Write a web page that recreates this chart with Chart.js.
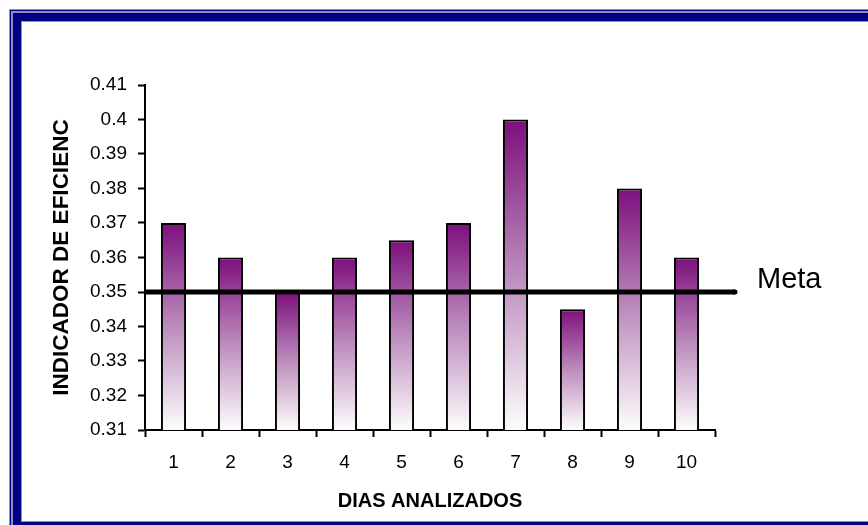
<!DOCTYPE html>
<html lang="es">
<head>
<meta charset="utf-8">
<title>Indicador de eficiencia por día</title>
<script src="https://cdn.jsdelivr.net/npm/chart.js@4.4.1/dist/chart.umd.min.js"></script>
<style>
  html, body { margin: 0; padding: 0; background: #ffffff; }
  #wrap { width: 868px; height: 525px; position: relative; }
  canvas { display: block; }
</style>
</head>
<body>
<div id="wrap"><canvas id="chart" width="868" height="525"></canvas></div>
<script>
// Días analizados y valor del indicador de eficiencia de cada día
const dias = ['1', '2', '3', '4', '5', '6', '7', '8', '9', '10'];
const eficiencia = [0.37, 0.36, 0.35, 0.36, 0.365, 0.37, 0.40, 0.345, 0.38, 0.36];
// Valor objetivo (línea "Meta")
const meta = 0.35;
const metaLabel = 'Meta';
// Marcas del eje vertical
const yTicks = [0.31, 0.32, 0.33, 0.34, 0.35, 0.36, 0.37, 0.38, 0.39, 0.40, 0.41];

const FONT = "'Liberation Sans', Arial, Helvetica, sans-serif";
const NAVY = '#000080';
const PURPLE = 'rgb(125,15,125)';

// Degradado vertical de cada barra: morado arriba, casi blanco abajo
function barGradient(ctx) {
  const chart = ctx.chart;
  const y = chart.scales && chart.scales.y;
  if (!chart.chartArea || !y || ctx.raw == null) return PURPLE;
  const top = y.getPixelForValue(ctx.raw);
  const bottom = y.getPixelForValue(y.min);
  if (!isFinite(top) || !isFinite(bottom) || top === bottom) return PURPLE;
  const g = chart.ctx.createLinearGradient(0, top, 0, bottom);
  g.addColorStop(0, PURPLE);
  g.addColorStop(0.5, 'rgb(188,140,188)');
  g.addColorStop(1, 'rgb(253,253,253)');
  return g;
}

// Marco azul doble alrededor del gráfico
const frame = {
  id: 'frame',
  beforeDraw(chart) {
    const c = chart.ctx, W = chart.width, H = chart.height;
    c.save();
    c.fillStyle = '#ffffff';
    c.fillRect(0, 0, W, H);
    // línea fina exterior
    c.fillStyle = '#8c8cc8';
    c.fillRect(9, 9, W - 9, 3);
    c.fillRect(9, 9, 3, H - 9);
    c.fillStyle = NAVY;
    c.fillRect(10, 10, W - 10, 1);
    c.fillRect(10, 10, 1, H - 10);
    // línea gruesa interior
    c.fillStyle = '#8c8cc8';
    c.fillRect(12, 12, W - 12, 10);
    c.fillRect(12, 12, 10, H - 12);
    c.fillRect(12, 521, W - 12, 1);
    c.fillStyle = NAVY;
    c.fillRect(13, 13, W - 13, 8);
    c.fillRect(13, 13, 8, H - 13);
    c.fillRect(13, 522, W - 13, H - 522);
    c.restore();
  }
};

// Línea horizontal de la meta con su rótulo
const metaLine = {
  id: 'metaLine',
  afterDatasetsDraw(chart) {
    const c = chart.ctx, a = chart.chartArea;
    const y = chart.scales.y.getPixelForValue(meta);
    c.save();
    c.strokeStyle = '#000000';
    c.lineWidth = 5;
    c.lineCap = 'butt';
    c.beginPath();
    c.moveTo(a.left, y);
    c.lineTo(a.right + 20, y);
    c.stroke();
    c.lineCap = 'round';
    c.beginPath();
    c.moveTo(a.right + 19, y);
    c.lineTo(a.right + 20, y);
    c.stroke();
    c.fillStyle = '#000000';
    c.font = '29px ' + FONT;
    c.textAlign = 'left';
    c.textBaseline = 'middle';
    c.fillText(metaLabel, a.right + 42, y - 12);
    c.restore();
  }
};

new Chart(document.getElementById('chart'), {
  type: 'bar',
  data: {
    labels: dias,
    datasets: [{
      label: 'Indicador de eficiencia',
      data: eficiencia,
      backgroundColor: barGradient,
      borderColor: '#000000',
      borderWidth: 2,
      borderSkipped: false,
      barPercentage: 0.44,
      categoryPercentage: 1
    }]
  },
  options: {
    responsive: false,
    animation: false,
    devicePixelRatio: 1,
    layout: { padding: { top: 85, left: 30, right: 153, bottom: 0 } },
    plugins: {
      legend: { display: false },
      tooltip: { enabled: false }
    },
    scales: {
      x: {
        offset: true,
        grid: {
          offset: true,
          drawOnChartArea: false,
          drawTicks: true,
          tickLength: 7,
          tickWidth: 2,
          tickColor: '#000000'
        },
        border: { display: true, color: '#000000', width: 2 },
        ticks: {
          color: '#000000',
          padding: 14,
          maxRotation: 0,
          font: { family: FONT, size: 19 }
        },
        title: {
          display: true,
          text: 'DIAS ANALIZADOS',
          color: '#000000',
          padding: { top: 0, bottom: 12 },
          font: { family: FONT, size: 20, weight: 'bold' }
        },
        afterFit(scale) { scale.height = 95; }
      },
      y: {
        min: 0.31,
        max: 0.41,
        afterBuildTicks(scale) { scale.ticks = yTicks.map(v => ({ value: v })); },
        grid: {
          drawOnChartArea: false,
          drawTicks: true,
          tickLength: 7,
          tickWidth: 2,
          tickColor: '#000000'
        },
        border: { display: true, color: '#000000', width: 2 },
        ticks: {
          color: '#000000',
          padding: 11,
          font: { family: FONT, size: 19 },
          callback: v => String(Number(v.toFixed(3)))
        },
        title: {
          display: true,
          text: 'INDICADOR DE EFICIENC',
          color: '#000000',
          padding: { top: 18, bottom: 0 },
          font: { family: FONT, size: 22.5, weight: 'bold' }
        },
        afterFit(scale) { scale.width = 115; }
      }
    }
  },
  plugins: [frame, metaLine]
});
</script>
</body>
</html>
